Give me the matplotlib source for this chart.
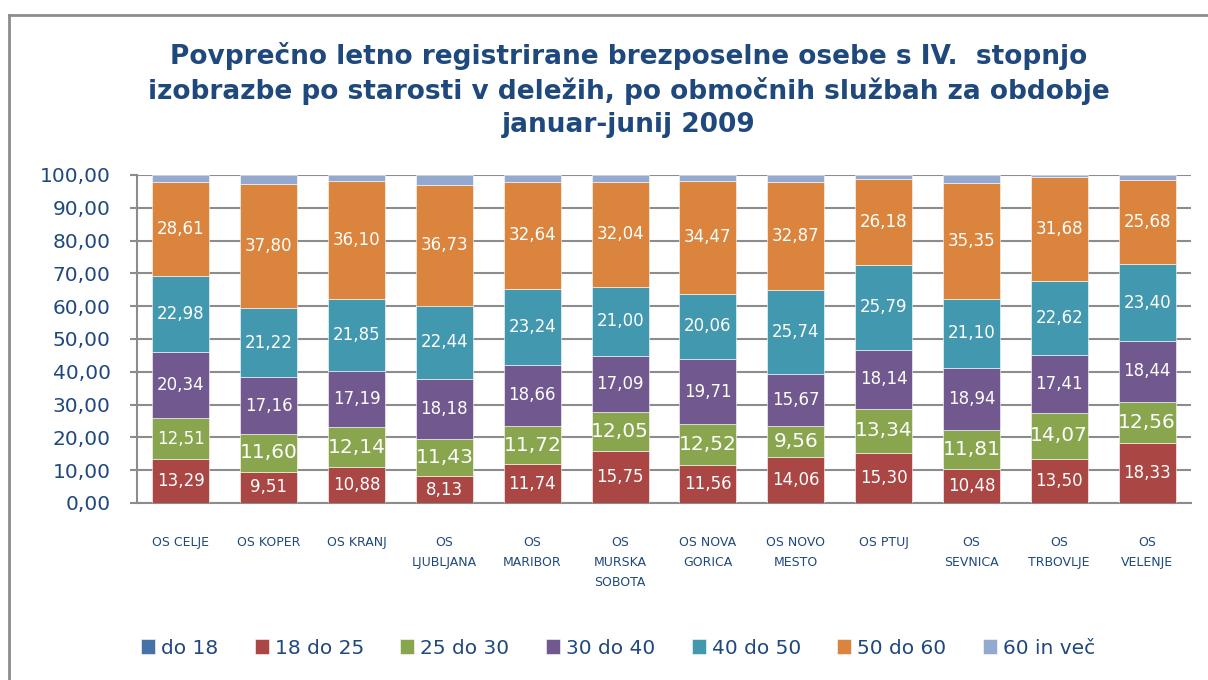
import numpy as np
import matplotlib.pyplot as plt
from matplotlib.lines import Line2D

# Data (shares in %, per regional office)
offices = ['OS CELJE', 'OS KOPER', 'OS KRANJ', 'OS\nLJUBLJANA', 'OS\nMARIBOR',
           'OS\nMURSKA\nSOBOTA', 'OS NOVA\nGORICA', 'OS NOVO\nMESTO', 'OS PTUJ',
           'OS\nSEVNICA', 'OS\nTRBOVLJE', 'OS\nVELENJE']
do_18 = [0.00, 0.00, 0.00, 0.00, 0.00, 0.00, 0.00, 0.00, 0.00, 0.00, 0.00, 0.00]
s18_25 = [13.29, 9.51, 10.88, 8.13, 11.74, 15.75, 11.56, 14.06, 15.30, 10.48, 13.50, 18.33]
s25_30 = [12.51, 11.60, 12.14, 11.43, 11.72, 12.05, 12.52, 9.56, 13.34, 11.81, 14.07, 12.56]
s30_40 = [20.34, 17.16, 17.19, 18.18, 18.66, 17.09, 19.71, 15.67, 18.14, 18.94, 17.41, 18.44]
s40_50 = [22.98, 21.22, 21.85, 22.44, 23.24, 21.00, 20.06, 25.74, 25.79, 21.10, 22.62, 23.40]
s50_60 = [28.61, 37.80, 36.10, 36.73, 32.64, 32.04, 34.47, 32.87, 26.18, 35.35, 31.68, 25.68]
s60 = [2.27, 2.71, 1.84, 3.09, 2.00, 2.07, 1.68, 2.10, 1.25, 2.32, 0.72, 1.59]

series = [('do 18', do_18, '#4572A7'),
          ('18 do 25', s18_25, '#AA4643'),
          ('25 do 30', s25_30, '#89A54E'),
          ('30 do 40', s30_40, '#71588F'),
          ('40 do 50', s40_50, '#4198AF'),
          ('50 do 60', s50_60, '#DB843D'),
          ('60 in več', s60, '#93A9CF')]
labelled = ['18 do 25', '25 do 30', '30 do 40', '40 do 50', '50 do 60']

navy = '#1F497D'
grid_col = '#8C8C8C'

fig = plt.figure(figsize=(12.08, 6.8), dpi=100)
ax = fig.add_axes([137/1208, 1 - 503/680, (1191 - 137)/1208, (503 - 175)/680])

x = np.arange(len(offices))
bottom = np.zeros(len(offices))
for name, vals, col in series:
    vals = np.array(vals)
    ax.bar(x, vals, 0.65, bottom=bottom, color=col, label=name,
           edgecolor='white', linewidth=0.4, zorder=3)
    if name in labelled:
        for i, v in enumerate(vals):
            # the green labels are drawn bigger, except the first one
            fs = 14.5 if (name == '25 do 30' and i > 0) else 12
            ax.text(x[i], bottom[i] + v/2, ('%.2f' % v).replace('.', ','),
                    ha='center', va='center', color='white', fontsize=fs,
                    zorder=4)
    bottom += vals

ax.set_xlim(-0.5, len(offices) - 0.5)
ax.set_ylim(0, 100)
ax.set_yticks(np.arange(0, 101, 10))
ax.set_yticklabels(['%d,00' % t for t in range(0, 101, 10)])
ax.set_xticks(x)
ax.set_xticklabels(offices, fontsize=9, color=navy, linespacing=1.7, va='top')
ax.tick_params(axis='x', length=0, pad=24)
ax.tick_params(axis='y', labelsize=14.5, labelcolor=navy, color=grid_col,
               length=5, width=1.5, pad=14)
ax.grid(axis='y', color=grid_col, linewidth=1.5, zorder=0)
for s in ['top', 'right']:
    ax.spines[s].set_visible(False)
for s in ['left', 'bottom']:
    ax.spines[s].set_color(grid_col)
    ax.spines[s].set_linewidth(1.5)

fig.text(629/1208, 1 - 90/680,
         'Povprečno letno registrirane brezposelne osebe s IV.  stopnjo\n'
         'izobrazbe po starosti v deležih, po območnih službah za obdobje\n'
         'januar-junij 2009',
         ha='center', va='center', fontsize=19, fontweight='bold',
         color=navy, linespacing=1.35)

fig.legend(loc='center', bbox_to_anchor=(618/1208, 1 - 648/680), ncol=7,
           frameon=False, fontsize=14.5, handlelength=0.7, handleheight=0.7,
           handletextpad=0.3, columnspacing=1.8, labelcolor=navy)

# outer chart frame
fig.add_artist(Line2D([9/1208, 9/1208], [0, 1 - 15/680], color=grid_col,
                      linewidth=2, transform=fig.transFigure))
fig.add_artist(Line2D([9/1208, 1], [1 - 15/680, 1 - 15/680], color=grid_col,
                      linewidth=2, transform=fig.transFigure))

fig.savefig('out.png', dpi=100)
